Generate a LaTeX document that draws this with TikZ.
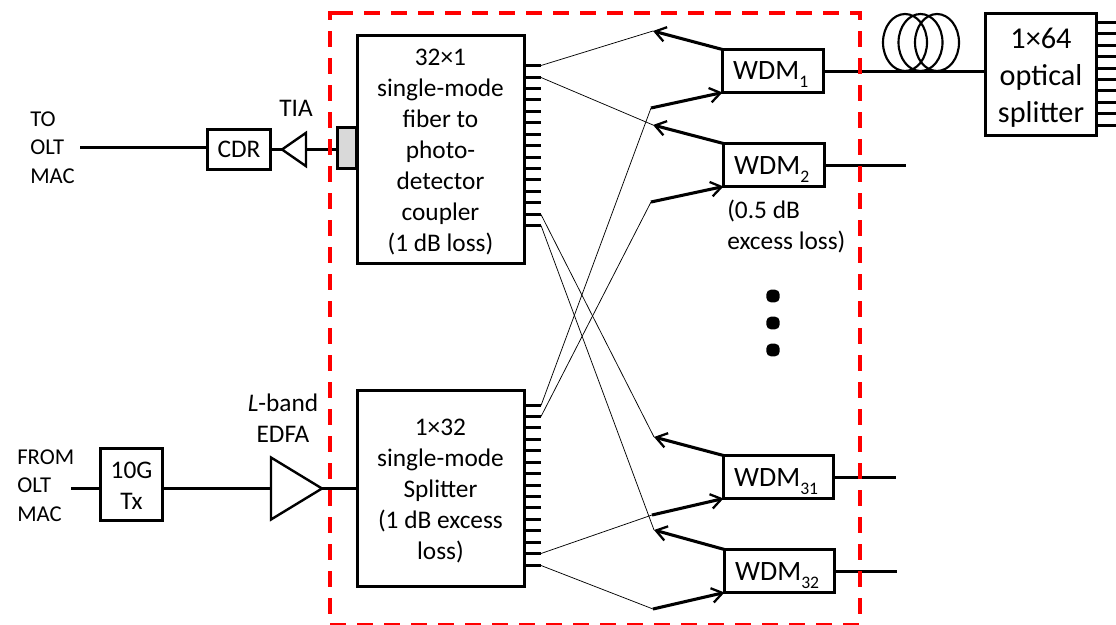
\documentclass[tikz,border=0pt]{standalone}
\usepackage{fontspec}
\setmainfont{Carlito}
\usetikzlibrary{arrows.meta,positioning,shapes.geometric}
\newcommand{\wsub}[1]{\raisebox{-6pt}{\fontsize{13.2}{14}\selectfont #1}}

\begin{document}
\begin{tikzpicture}[
  x=0.75pt, y=-0.75pt,
  >={Straight Barb[length=8pt,width=11pt,line width=1.7pt]},
  txt/.style={font=\fontsize{19}{23.2}\selectfont, align=center, inner sep=0pt},
  lbl/.style={font=\fontsize{17}{21.3}\selectfont, align=left, inner sep=0pt},
  box/.style={draw=black, line width=2pt, inner sep=0pt, outer sep=0pt, txt},
  wdm/.style={box, font=\fontsize{21}{25}\selectfont, minimum height=32.25pt, align=left,
    text width=#1, inner xsep=8pt, text height=16pt, text depth=2.5pt},
  amp/.style={draw=black, line width=1.8pt, isosceles triangle, isosceles triangle stretches,
    inner sep=0pt, outer sep=0pt},
  stub/.style={line width=2pt},
  fiber/.style={line width=2.1pt},
  link/.style={line width=0.55pt},
  bold/.style={->, line width=2.3pt},
  dotmark/.style={fill=black, rounded corners=3.5pt, minimum width=10pt, minimum height=9.5pt, inner sep=0pt},
]
  \useasboundingbox (0,0) rectangle (1116,624);

  % Coupler and splitter blocks
  \node[box, minimum width=125.25pt, minimum height=171pt] (coupler) at (441,149.5) {};
  \node[txt] (couplertxt) at ([xshift=-0.4pt,yshift=-1.9pt]coupler.center)
    {32×1\\single-mode\\fiber to\\photo-\\detector\\coupler\\(1 dB loss)};
  \node[box, minimum width=125.25pt, minimum height=147pt] (splitter) at (441,488.5) {};
  \node[txt] (splittertxt) at ([xshift=-0.4pt,yshift=-1.9pt]splitter.center)
    {1×32\\single-mode\\Splitter\\(1 dB excess\\loss)};

  % Output stubs on both blocks
  \def\dy{11.43}  % stub spacing
  \foreach \i in {0,...,14} {
    \pgfmathsetmacro{\py}{floor(65.7 + \i*\dy) + 0.5}
    \pgfmathsetmacro{\qy}{floor(405 + \i*\dy) + 0.5}
    \draw[stub] (524,\py) -- (541,\py) coordinate (cp\i);
    \draw[stub] (524,\qy) -- (541,\qy) coordinate (sp\i);
  }

  % WDM blocks
  \node[wdm=59.75pt] (wdm1) at (773,71) {WDM\wsub{1}};
  \node[wdm=59.75pt] (wdm2) at (774,165) {WDM\wsub{2}};
  \node[wdm=66.5pt] (wdm31) at (778.5,477) {WDM\wsub{31}};
  \node[wdm=66.5pt] (wdm32) at (779.5,571) {WDM\wsub{32}};
  \node[txt, anchor=north west, align=left] (wdmloss) at (727,200) {(0.5 dB\\excess loss)};

  % Bold arrows at the WDM blocks
  \draw[bold] (wdm1.north west) -- (653,31) coordinate (a1);
  \draw[bold] (651,108) coordinate (b1) -- (wdm1.south west);
  \draw[bold] (wdm2.north west) -- (653,125) coordinate (a2);
  \draw[bold] (651,202) coordinate (b2) -- (wdm2.south west);
  \draw[bold] (wdm31.north west) -- (654,437) coordinate (a31);
  \draw[bold] (652,515) coordinate (b31) -- (wdm31.south west);
  \draw[bold] (wdm32.north west) -- (654,530) coordinate (a32);
  \draw[bold] (653,609) coordinate (b32) -- (wdm32.south west);

  % Thin fibers
  \draw[link] (cp0) -- (a1);
  \draw[link] (cp1) -- (a2);
  \draw[link] (cp13) -- (a31);
  \draw[link] (cp14) -- (a32);
  \draw[link] (sp0) -- (b1);
  \draw[link] (sp1) -- (b2);
  \draw[link] (sp13) -- (b31);
  \draw[link] (sp14) -- (b32);

  % Vertical dots
  \foreach \n/\py in {d1/296,d2/323,d3/350} {
    \node[dotmark, fill=black] (\n) at (773,\py) {};
  }

  % Receiver side
  \node[draw=black, fill=black!15, line width=2pt, minimum width=14.25pt, minimum height=30.75pt,
    inner sep=0pt, outer sep=0pt] (pd) at (347,148) {};
  \node[amp, shape border rotate=180, minimum width=25pt, minimum height=18pt, anchor=apex] (tia)
    at (282,149.5) {};
  \node[box, minimum width=47.25pt, minimum height=30pt] (cdr) at (239,149.5) {CDR};
  \coordinate (tomac) at (80,147.5);
  \draw[fiber] (pd.west |- tia.east) -- (tia.east);
  \draw[fiber] (tia.west) -- (cdr.east);
  \draw[fiber] (cdr.west |- tomac) -- (tomac);
  \node[txt] (tialbl) at (296,108) {TIA};
  \node[lbl, anchor=west] (tolbl) at (30,147.5) {TO\\OLT\\MAC};

  % Transmitter side
  \node[box, minimum width=46.5pt, minimum height=54pt] (tx) at (131.5,484.5) {};
  \node[txt] (txtxt) at ([yshift=-1.3pt]tx.center) {10G\\Tx};
  \node[amp, minimum width=46.5pt, minimum height=38.25pt, anchor=apex] (edfa) at (322,488.5) {};
  \coordinate (frommac) at (71,488.5);
  \draw[fiber] (frommac) -- (tx.west |- frommac);
  \draw[fiber] (tx.east |- frommac) -- (edfa.west);
  \draw[fiber] (edfa.east) -- (splitter.west |- edfa.east);
  \node[txt] (edfalbl) at (283,418) {\textit{L}-band\\EDFA};
  \node[lbl, anchor=west] (fromlbl) at (17,485.5) {FROM\\OLT\\MAC};

  % Drop fiber with coil and 1x64 splitter
  \node[box, minimum width=83.25pt, minimum height=91.5pt] (out) at (1041,74.5) {};
  \node[txt, font=\fontsize{22.7}{27.7}\selectfont] (outtxt) at ([yshift=-2.2pt]out.center)
    {1×64\\optical\\splitter};
  \foreach \i in {0,...,9} {
    \pgfmathsetmacro{\py}{floor(22.5 + \i*11.4) + 0.5}
    \draw[stub] (1096,\py) -- (1116,\py);
  }
  \coordinate (coil) at (920.5,71.5);
  \coordinate (wdm2end) at (906,165.5);
  \coordinate (wdm31end) at (896,477.5);
  \coordinate (wdm32end) at (897,571.5);
  \draw[fiber] (wdm1.east |- coil) -- (out.west |- coil);
  \foreach \cx in {905,920.5,937} {
    \draw[line width=1.6pt] (\cx,42.5) ellipse (22 and 28.5);
  }
  \draw[fiber] (wdm2.east |- wdm2end) -- (wdm2end);
  \draw[fiber] (wdm31.east |- wdm31end) -- (wdm31end);
  \draw[fiber] (wdm32.east |- wdm32end) -- (wdm32end);

  % Red dashed boundary
  \draw[red, line width=3pt, dash pattern=on 11.5pt off 8.75pt]
    (337.3,13.5) -- (859.5,13.5) -- (859.5,624.5) -- (329.5,624.5) -- (329.5,13.5) -- cycle;
\end{tikzpicture}
\end{document}
